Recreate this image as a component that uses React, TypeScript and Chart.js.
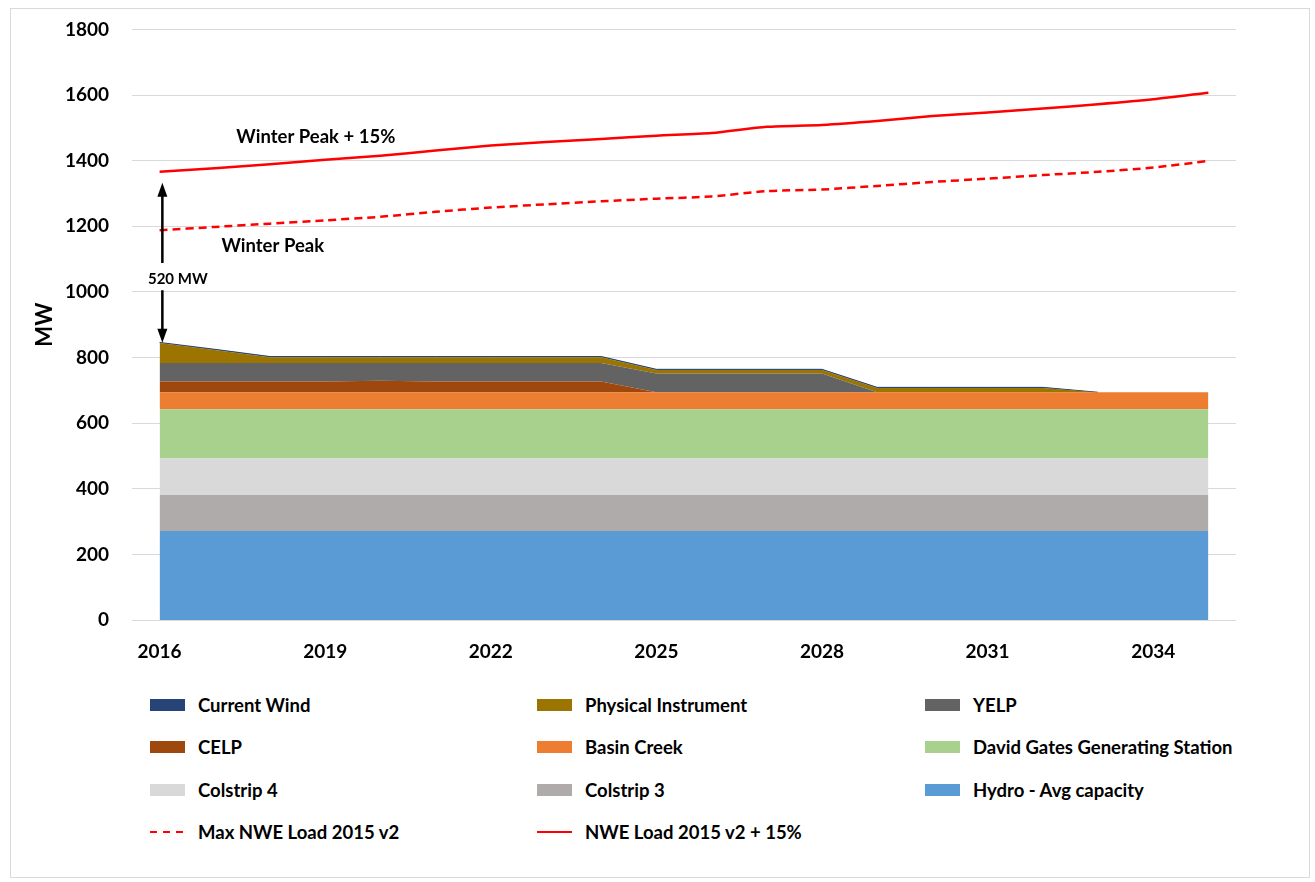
import React, { useEffect, useRef } from 'react';
import { Chart, registerables } from 'chart.js';

Chart.register(...registerables);

// ---------- data ----------
const years = ['2016', '2017', '2018', '2019', '2020', '2021', '2022', '2023', '2024', '2025',
  '2026', '2027', '2028', '2029', '2030', '2031', '2032', '2033', '2034', '2035'];

const hydro = [271, 271, 271, 271, 271, 271, 271, 271, 271, 271, 271, 271, 271, 271, 271, 271, 271, 271, 271, 271];
const colstrip3 = [110, 110, 110, 110, 110, 110, 110, 110, 110, 110, 110, 110, 110, 110, 110, 110, 110, 110, 110, 110];
const colstrip4 = [111, 111, 111, 111, 111, 111, 111, 111, 111, 111, 111, 111, 111, 111, 111, 111, 111, 111, 111, 111];
const davidGates = [150, 150, 150, 150, 150, 150, 150, 150, 150, 150, 150, 150, 150, 150, 150, 150, 150, 150, 150, 150];
const basinCreek = [52, 52, 52, 52, 52, 52, 52, 52, 52, 52, 52, 52, 52, 52, 52, 52, 52, 52, 52, 52];
const celp = [33, 33, 33, 33, 35, 33, 33, 33, 33, 0, 0, 0, 0, 0, 0, 0, 0, 0, 0, 0];
const yelp = [56, 56, 56, 56, 54, 56, 56, 56, 56, 57, 57, 57, 57, 0, 0, 0, 0, 0, 0, 0];
const physicalInstrument = [61, 40, 18, 18, 18, 18, 18, 18, 18, 11, 11, 11, 11, 13, 13, 13, 13, 0, 0, 0];
const currentWind = [2, 2, 2, 2, 2, 2, 2, 2, 2, 2, 2, 2, 2, 2, 2, 2, 2, 0, 0, 0];

const maxLoad = [1188, 1198, 1208, 1218, 1229, 1244, 1257, 1267, 1276, 1284, 1291, 1307, 1312, 1323, 1335, 1345, 1356, 1366, 1379, 1399];
const loadPlus15 = [1366, 1377, 1389, 1403, 1415, 1431, 1446, 1457, 1466, 1476, 1484, 1503, 1509, 1521, 1536, 1547, 1559, 1572, 1587, 1607];

const yTicks = [0, 200, 400, 600, 800, 1000, 1200, 1400, 1600, 1800];

const areaNames = ['Hydro - Avg capacity', 'Colstrip 3', 'Colstrip 4', 'David Gates Generating Station',
  'Basin Creek', 'CELP', 'YELP', 'Physical Instrument', 'Current Wind'];
const areaColors = ['#5B9BD5', '#AFABAB', '#D9D9D9', '#A9D18E', '#ED7D31', '#9E480E', '#636363', '#9C7400', '#264478'];
const areaSeries = [hydro, colstrip3, colstrip4, davidGates, basinCreek, celp, yelp, physicalInstrument, currentWind];

const lineNames = ['Max NWE Load 2015 v2', 'NWE Load 2015 v2 + 15%'];
const lineColor = '#FF0000';

// annotation values (data space)
const notes = [
  { text: 'Winter Peak + 15%', xi: 2.83, y: 1471 },
  { text: 'Winter Peak', xi: 2.05, y: 1139 },
];
const arrowNote = { text: '520 MW', xi: 0.05, top: 1333, bottom: 845, gapTop: 1088, gapBottom: 1005, labelY: 1039, labelXi: 0.33 };

const FONT = 'Lato, "Open Sans", sans-serif';

const annotationPlugin = {
  id: 'annotations',
  afterDatasetsDraw(chart: any) {
    const { ctx } = chart;
    const x = chart.scales.x;
    const y = chart.scales.y;
    const x0 = x.getPixelForValue(0);
    const step = x.getPixelForValue(1) - x0;
    const px = (i: number) => x0 + i * step;
    ctx.save();
    ctx.fillStyle = '#000';
    ctx.textAlign = 'center';
    ctx.textBaseline = 'middle';
    ctx.font = `bold 18.5px ${FONT}`;
    for (const n of notes) ctx.fillText(n.text, px(n.xi), y.getPixelForValue(n.y));

    // double arrow
    const ax = px(arrowNote.xi);
    const yt = y.getPixelForValue(arrowNote.top);
    const yb = y.getPixelForValue(arrowNote.bottom);
    const g1 = y.getPixelForValue(arrowNote.gapTop);
    const g2 = y.getPixelForValue(arrowNote.gapBottom);
    const headL = 14;
    const headW = 5;
    ctx.strokeStyle = '#000';
    ctx.lineWidth = 2.5;
    ctx.beginPath();
    ctx.moveTo(ax, yt + headL - 2);
    ctx.lineTo(ax, g1);
    ctx.moveTo(ax, g2);
    ctx.lineTo(ax, yb - headL + 2);
    ctx.stroke();
    ctx.beginPath();
    ctx.moveTo(ax, yt);
    ctx.lineTo(ax - headW, yt + headL);
    ctx.lineTo(ax + headW, yt + headL);
    ctx.closePath();
    ctx.fill();
    ctx.beginPath();
    ctx.moveTo(ax, yb);
    ctx.lineTo(ax - headW, yb - headL);
    ctx.lineTo(ax + headW, yb - headL);
    ctx.closePath();
    ctx.fill();

    ctx.font = `bold 15px ${FONT}`;
    ctx.fillText(arrowNote.text, px(arrowNote.labelXi), y.getPixelForValue(arrowNote.labelY));
    ctx.restore();
  },
};

const legendItems = [
  { name: 'Current Wind', color: '#264478', type: 'box' },
  { name: 'Physical Instrument', color: '#9C7400', type: 'box' },
  { name: 'YELP', color: '#636363', type: 'box' },
  { name: 'CELP', color: '#9E480E', type: 'box' },
  { name: 'Basin Creek', color: '#ED7D31', type: 'box' },
  { name: 'David Gates Generating Station', color: '#A9D18E', type: 'box' },
  { name: 'Colstrip 4', color: '#D9D9D9', type: 'box' },
  { name: 'Colstrip 3', color: '#AFABAB', type: 'box' },
  { name: 'Hydro - Avg capacity', color: '#5B9BD5', type: 'box' },
  { name: lineNames[0], color: lineColor, type: 'dash' },
  { name: lineNames[1], color: lineColor, type: 'line' },
];

const CANVAS_SHIFT = 5;

export default function App() {
  const canvasRef = useRef<HTMLCanvasElement | null>(null);

  useEffect(() => {
    const canvas = canvasRef.current;
    if (!canvas) return;
    const areaDatasets = areaSeries.map((data, i) => ({
      label: areaNames[i],
      data,
      backgroundColor: areaColors[i],
      borderColor: areaColors[i],
      borderWidth: i === areaSeries.length - 1 ? 1 : 0,
      fill: i === 0 ? 'origin' : '-1',
      pointRadius: 0,
      tension: 0,
      yAxisID: 'y',
      segment: i === areaSeries.length - 1 ? {
        borderColor: (c: any) => (data[c.p0DataIndex] === 0 && data[c.p1DataIndex] === 0 ? 'rgba(0,0,0,0)' : areaColors[i]),
      } : undefined,
    }));
    const chart = new Chart(canvas, {
      type: 'line',
      data: {
        labels: years,
        datasets: [
          ...areaDatasets,
          {
            label: lineNames[0],
            data: maxLoad,
            borderColor: lineColor,
            backgroundColor: lineColor,
            borderWidth: 2.5,
            borderDash: [8, 5],
            fill: false,
            pointRadius: 0,
            tension: 0.25,
            yAxisID: 'y2',
            order: -1,
          },
          {
            label: lineNames[1],
            data: loadPlus15,
            borderColor: lineColor,
            backgroundColor: lineColor,
            borderWidth: 2.5,
            fill: false,
            pointRadius: 0,
            tension: 0.25,
            yAxisID: 'y2',
            order: -1,
          },
        ] as any,
      },
      options: {
        animation: false,
        responsive: false,
        maintainAspectRatio: false,
        layout: { padding: { top: 25, right: 79, left: 0, bottom: 0 } },
        plugins: {
          legend: { display: false },
          tooltip: { enabled: false },
        },
        scales: {
          x: {
            type: 'category',
            offset: true,
            grid: { display: false },
            border: { display: false },
            afterFit: (s: any) => { s.height = 60; },
            ticks: {
              autoSkip: false,
              maxRotation: 0,
              padding: 12,
              color: '#000',
              font: { family: FONT, size: 19, weight: 'bold' },
              callback: (_v: any, idx: number) => (idx % 3 === 0 ? years[idx] : ''),
            },
          },
          y: {
            stacked: true,
            min: 0,
            max: 1800,
            afterFit: (s: any) => { s.width = 132; },
            afterBuildTicks: (s: any) => { s.ticks = yTicks.map((v) => ({ value: v })); },
            grid: { color: '#D9D9D9', lineWidth: 1, drawTicks: false },
            border: { display: false },
            ticks: {
              padding: 23,
              color: '#000',
              font: { family: FONT, size: 19, weight: 'bold' },
              callback: (v: any) => String(v),
            },
            title: {
              display: true,
              text: 'MW',
              color: '#000',
              font: { family: FONT, size: 22, weight: 'bold' },
              padding: { top: 32, bottom: 0 },
            },
          },
          y2: {
            display: false,
            stacked: false,
            min: 0,
            max: 1800,
          },
        },
      } as any,
      plugins: [annotationPlugin],
    });
    return () => chart.destroy();
  }, []);

  const colLeft = [150, 537, 925];
  const rowY = [705, 747, 790, 832];

  return (
    <div style={{ position: 'relative', width: 1315, height: 882, background: '#fff', overflow: 'hidden' }}>
      <style>{'body{margin:0;}'}</style>
      <div style={{ position: 'absolute', left: 10, top: 8, width: 1300, height: 870, border: '1px solid #D9D9D9', boxSizing: 'border-box' }} />
      <canvas ref={canvasRef} width={1315} height={680 + CANVAS_SHIFT} style={{ position: 'absolute', left: 0, top: -CANVAS_SHIFT, width: 1315, height: 680 + CANVAS_SHIFT }} />
      {legendItems.map((it, i) => {
        const col = i % 3;
        const row = Math.floor(i / 3);
        return (
          <div key={it.name} style={{ position: 'absolute', left: colLeft[col], top: rowY[row] - 12, height: 24, display: 'flex', alignItems: 'center', fontFamily: FONT, fontWeight: 700, fontSize: 18.5, color: '#000', whiteSpace: 'nowrap' }}>
            {it.type === 'box' ? (
              <span style={{ display: 'inline-block', width: 35, height: 12, background: it.color }} />
            ) : (
              <svg width={35} height={12} style={{ display: 'block' }}>
                <line x1={0} y1={6} x2={35} y2={6} stroke={it.color} strokeWidth={2} strokeDasharray={it.type === 'dash' ? '7,6' : undefined} />
              </svg>
            )}
            <span style={{ marginLeft: 13 }}>{it.name}</span>
          </div>
        );
      })}
    </div>
  );
}
